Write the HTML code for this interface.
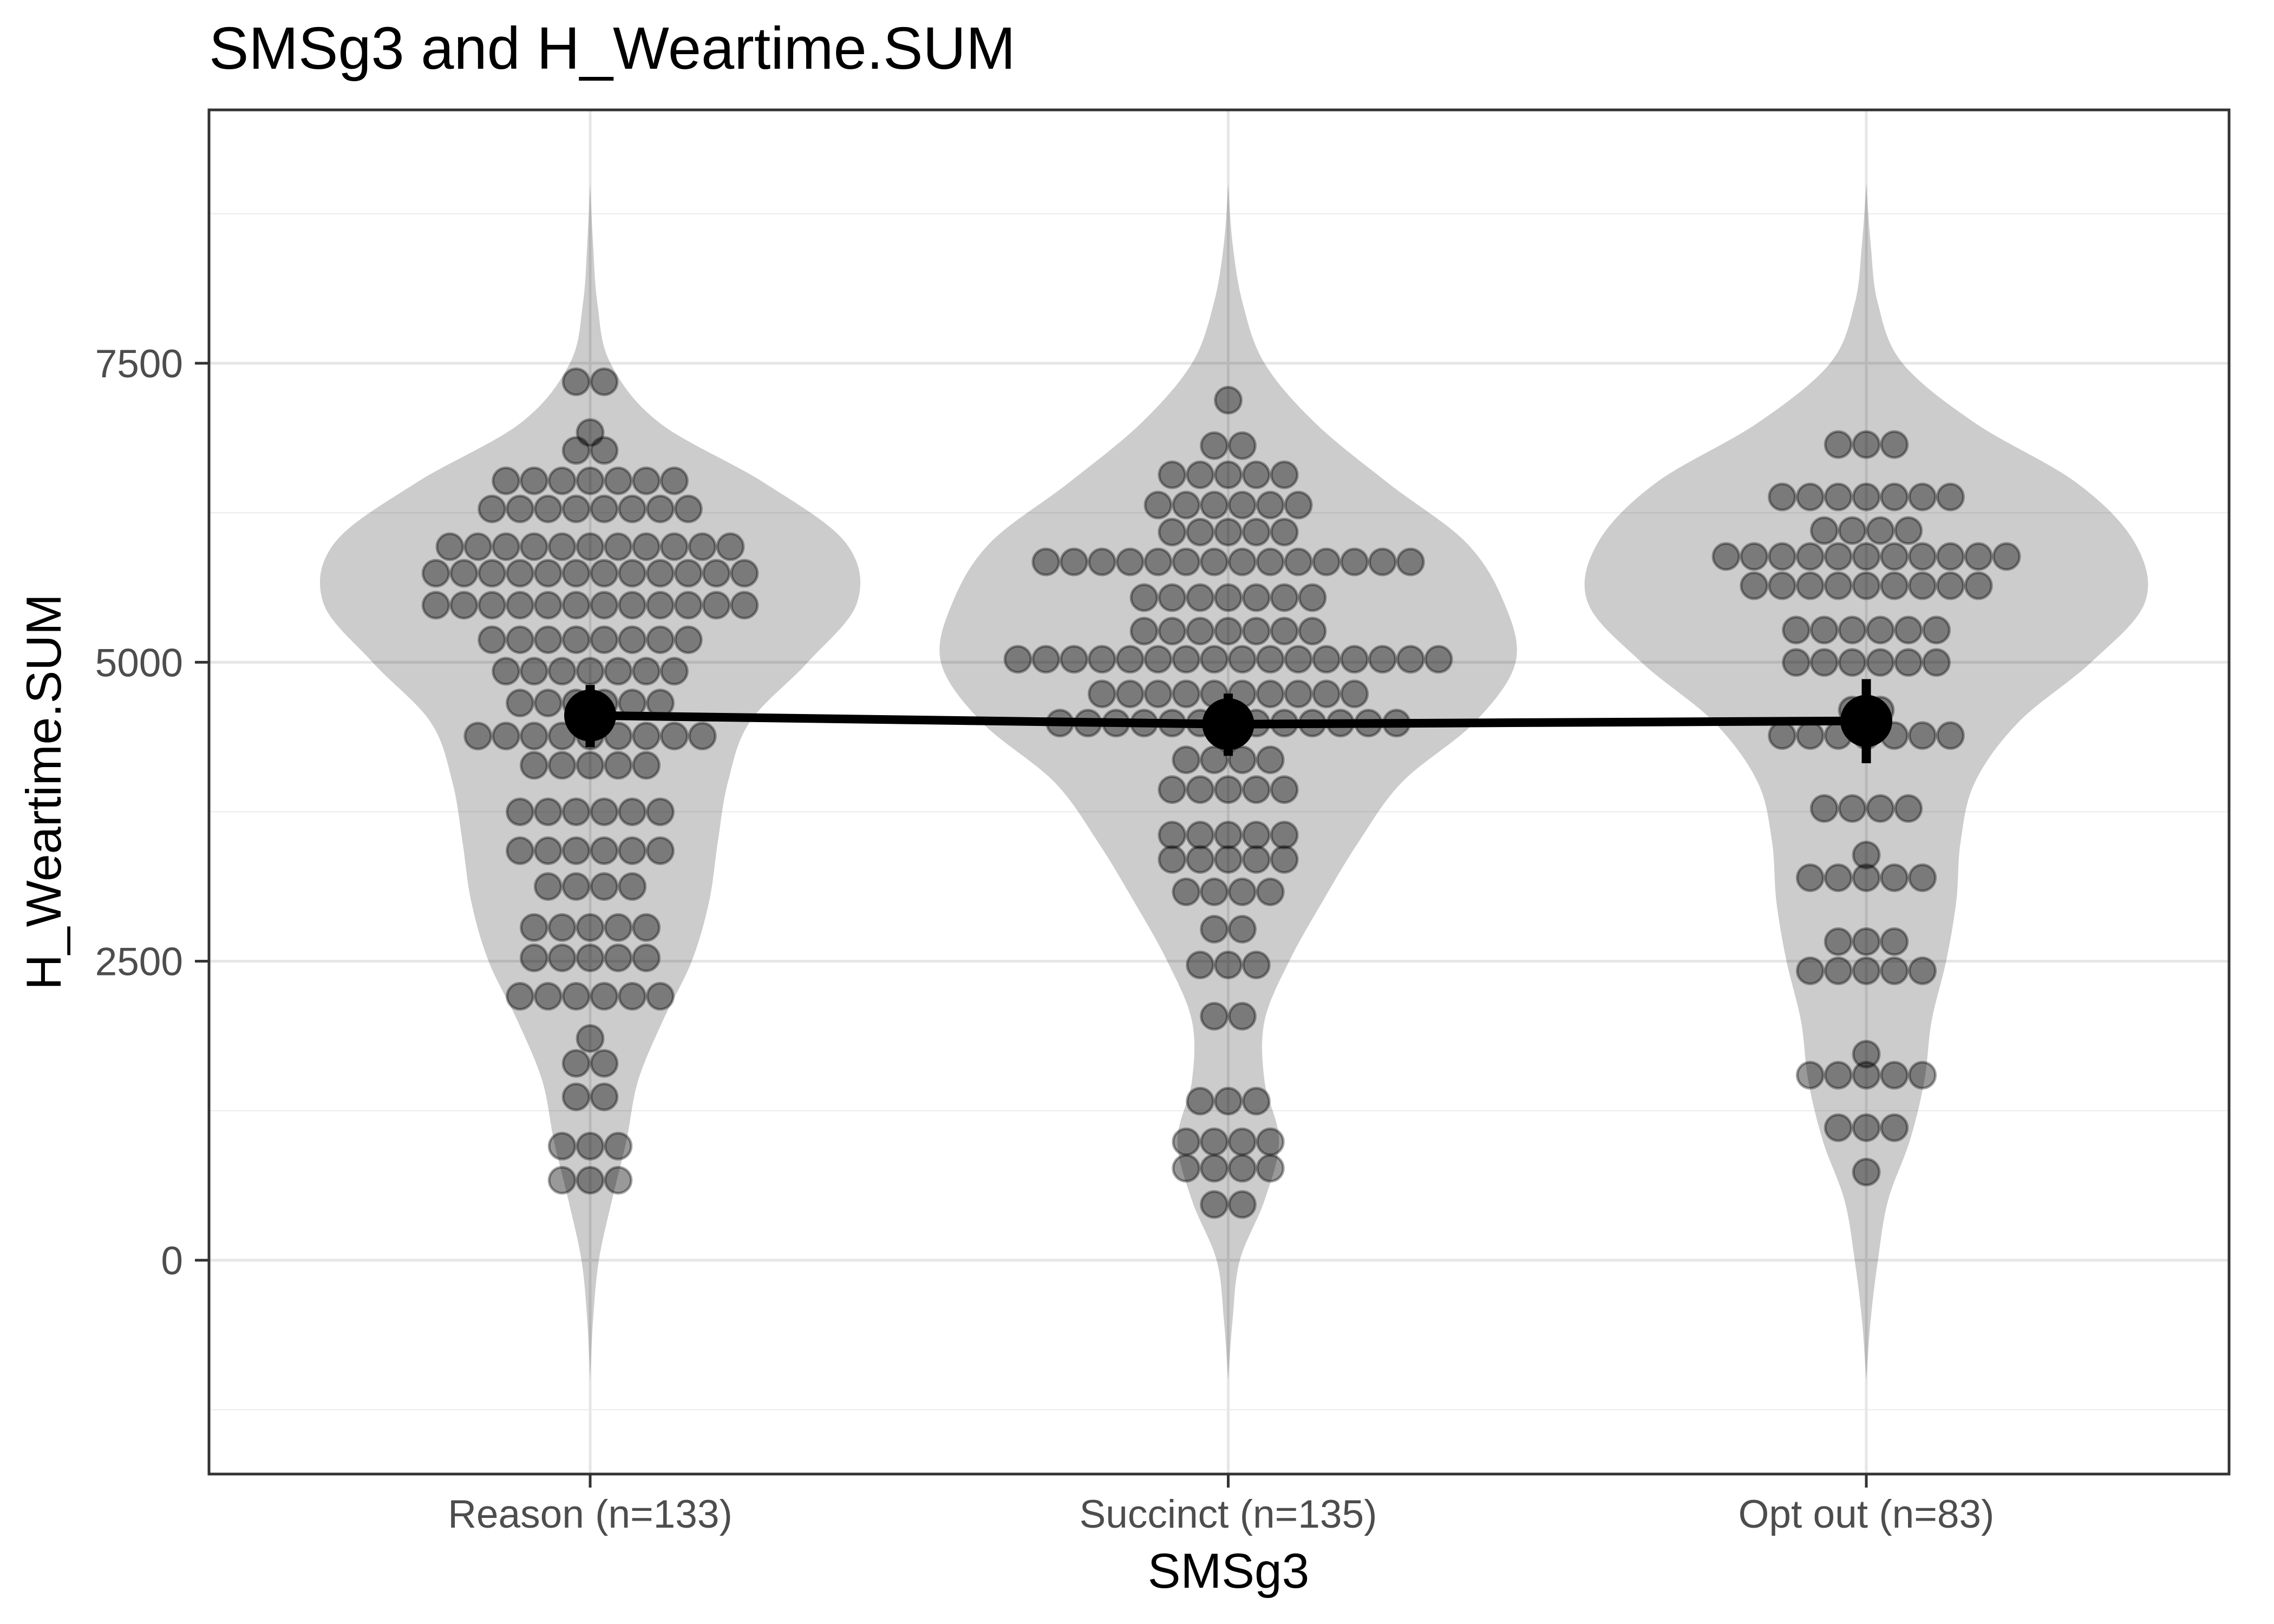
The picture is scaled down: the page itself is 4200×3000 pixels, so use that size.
<!DOCTYPE html>
<html><head><meta charset="utf-8"><style>
html,body{margin:0;padding:0;background:#fff;}
svg{display:block;font-family:"Liberation Sans",Arial,sans-serif;}
</style></head><body>
<svg id="chart" xmlns="http://www.w3.org/2000/svg" width="4200" height="3000" viewBox="0 0 4200 3000">
<rect x="0" y="0" width="4200" height="3000" fill="#fff"/>
<g id="grid"></g>
<g id="violins"></g>
<g id="dots"></g>
<g id="means"></g>
<rect x="386" y="203" width="3731" height="2520" fill="none" stroke="#333" stroke-width="5"/>
<g id="axes"></g>
<text x="386" y="127" font-size="110" fill="#000">SMSg3 and H_Weartime.SUM</text>
<text x="2269" y="2933" font-size="91" fill="#000" text-anchor="middle">SMSg3</text>
<text x="0" y="0" font-size="91" fill="#000" text-anchor="middle" transform="translate(112,1463) rotate(-90)">H_Weartime.SUM</text>
</svg>
<script>
const categories = ["Reason (n=133)", "Succinct (n=135)", "Opt out (n=83)"];
const yTicks = [0, 2500, 5000, 7500];
const yMinor = [-1250, 1250, 3750, 6250, 8750];
const reasonBins = [7345,6920,6771,6517,6282,5966,5744,5477,5188,4925,4659,4383,4138,3749,3424,3125,2782,2528,2207,1854,1646,1366,954,669];
const reasonCounts = [2,1,2,7,8,11,12,12,8,7,6,9,5,6,6,4,5,5,6,1,2,2,3,3];
const succinctBins = [7191,6811,6567,6314,6088,5839,5540,5260,5025,4735,4491,4184,3935,3555,3351,3080,2768,2469,2040,1330,990,769,466];
const succinctCounts = [1,2,5,6,5,14,7,7,16,10,13,4,5,5,5,4,2,3,2,3,4,4,2];
const optoutBins = [6820,6382,6101,5884,5640,5269,4998,4600,4387,3777,3388,3198,2664,2420,1723,1547,1108,737];
const optoutCounts = [3,7,4,11,9,6,6,2,7,4,1,5,3,5,1,5,3,1];
const violinGrid = [9000,8500,8000,7500,7000,6500,6000,5500,5000,4500,4000,3500,3000,2500,2000,1500,1000,500,0,-500,-1000];
const reasonDensity = [0,0.01,0.025,0.07,0.24,0.6,0.88,0.92,0.75,0.55,0.475,0.44,0.41,0.35,0.25,0.165,0.125,0.075,0.03,0.01,0];
const succinctDensity = [0,0.015,0.05,0.125,0.3,0.55,0.82,0.95,0.99,0.85,0.6,0.45,0.325,0.21,0.125,0.125,0.175,0.125,0.04,0.015,0];
const optoutDensity = [0,0.015,0.04,0.125,0.375,0.725,0.925,0.96,0.775,0.525,0.375,0.325,0.31,0.275,0.225,0.2,0.15,0.075,0.04,0.015,0];
const means = [4555, 4482, 4510];
const ciLow = [4290, 4217, 4156];
const ciHigh = [4810, 4738, 4859];

const NS = "http://www.w3.org/2000/svg";
const panel = {l:386, r:4117, t:203, b:2723};
function yScale(v){ return 2328 - v*0.22093; }
function xScale(i){ return 1090 + i*1178.5; }
const maxHalf = 536, dotSpacing = 51.8, dotR = 24;
function mk(tag, attrs, parent){ const e=document.createElementNS(NS,tag); for(const k in attrs) e.setAttribute(k,attrs[k]); parent.appendChild(e); return e; }

const grid = document.getElementById('grid');
yMinor.forEach(v=>{
  const l = mk('line',{x1:panel.l,x2:panel.r,y1:yScale(v),y2:yScale(v),stroke:'#ebebeb','stroke-width':2},grid);
  
  
});
yTicks.forEach(v=>{
  const l = mk('line',{x1:panel.l,x2:panel.r,y1:yScale(v),y2:yScale(v),stroke:'#e6e6e6','stroke-width':5},grid);
  
  
});
categories.forEach((c,i)=>{
  const l = mk('line',{x1:xScale(i),x2:xScale(i),y1:panel.t,y2:panel.b,stroke:'#e6e6e6','stroke-width':5},grid);
  
  
});

function smoothPath(pts){
  let d = 'M'+pts[0][0]+','+pts[0][1];
  for(let i=0;i<pts.length-1;i++){
    const p0=pts[Math.max(0,i-1)], p1=pts[i], p2=pts[i+1], p3=pts[Math.min(pts.length-1,i+2)];
    const c1=[p1[0]+(p2[0]-p0[0])/6, p1[1]+(p2[1]-p0[1])/6];
    const c2=[p2[0]-(p3[0]-p1[0])/6, p2[1]-(p3[1]-p1[1])/6];
    d += ' C'+c1[0]+','+c1[1]+' '+c2[0]+','+c2[1]+' '+p2[0]+','+p2[1];
  }
  return d;
}
const violinsG = document.getElementById('violins');
const densities = [reasonDensity, succinctDensity, optoutDensity];
const vnames = ['violin-reason','violin-succinct','violin-optout'];
densities.forEach((dens,i)=>{
  const cx = xScale(i);
  const right = violinGrid.map((v,j)=>[cx+dens[j]*maxHalf, yScale(v)]);
  const left = violinGrid.map((v,j)=>[cx-dens[j]*maxHalf, yScale(v)]).reverse();
  const d = smoothPath(right) + ' L' + left[0][0]+','+left[0][1] + smoothPath(left).replace(/^M[^C]*/,' ') + ' Z';
  const p = mk('path',{d:d,fill:'#000','fill-opacity':0.2},violinsG);
  
  
});

const dotsG = document.getElementById('dots');
const binsAll = [reasonBins, succinctBins, optoutBins];
const countsAll = [reasonCounts, succinctCounts, optoutCounts];
binsAll.forEach((bins,i)=>{
  const cx = xScale(i);
  bins.forEach((v,j)=>{
    const n = countsAll[i][j];
    for(let k=0;k<n;k++){
      const c = mk('circle',{cx:cx+(k-(n-1)/2)*dotSpacing, cy:yScale(v), r:dotR, fill:'#000','fill-opacity':0.4, stroke:'#000','stroke-opacity':0.35,'stroke-width':5},dotsG);
      
      
    }
  });
});

const meansG = document.getElementById('means');
const linePts = means.map((m,i)=>xScale(i)+','+yScale(m)).join(' ');
const ml = mk('polyline',{points:linePts,fill:'none',stroke:'#000','stroke-width':16},meansG);


means.forEach((m,i)=>{
  const eb = mk('line',{x1:xScale(i),x2:xScale(i),y1:yScale(ciLow[i]),y2:yScale(ciHigh[i]),stroke:'#000','stroke-width':17},meansG);
  
  
  const pt = mk('circle',{cx:xScale(i),cy:yScale(m),r:48,fill:'#000'},meansG);
  
  
});

const axesG = document.getElementById('axes');
yTicks.forEach(v=>{
  const t = mk('line',{x1:360,x2:386,y1:yScale(v),y2:yScale(v),stroke:'#333','stroke-width':5},axesG);
  
  
  const lb = mk('text',{x:338,y:yScale(v)+26,'font-size':73,fill:'#4d4d4d','text-anchor':'end'},axesG);
  lb.textContent = String(v);
  
  
});
categories.forEach((c,i)=>{
  const t = mk('line',{x1:xScale(i),x2:xScale(i),y1:2723,y2:2748,stroke:'#333','stroke-width':5},axesG);
  
  
  const lb = mk('text',{x:xScale(i),y:2822,'font-size':73,fill:'#4d4d4d','text-anchor':'middle'},axesG);
  lb.textContent = c;
  
  
});
</script>
</body></html>
